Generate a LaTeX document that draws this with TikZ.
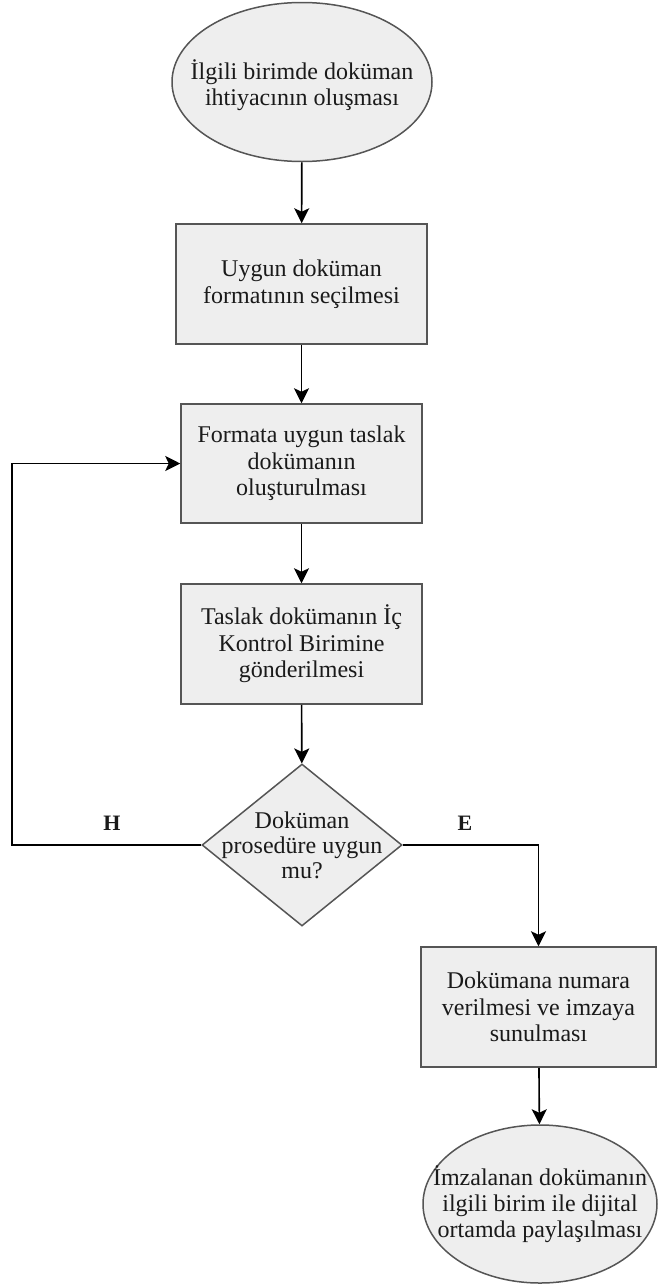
\documentclass[tikz,border=0pt]{standalone}
\usepackage{fontspec}
\setmainfont{Liberation Serif}
\usetikzlibrary{shapes.geometric,arrows.meta}
\definecolor{boxfill}{HTML}{EEEEEE}
\definecolor{boxline}{HTML}{555555}
\definecolor{txt}{HTML}{1A1A1A}
\begin{document}
\begin{tikzpicture}[x=1pt,y=-1pt,
  shapefill/.style={fill=boxfill, draw=boxline, line width=1.5pt},
  stepbox/.style={shapefill, rectangle, inner sep=0pt, align=center,
    font=\fontsize{24}{26.5}\selectfont, text=txt},
  oval/.style={shapefill, ellipse, inner sep=0pt},
  decision/.style={shapefill, diamond, inner sep=0pt},
  plaintext/.style={inner sep=0pt, align=center, font=\fontsize{24}{26}\selectfont, text=txt},
  lbl/.style={inner sep=0pt, font=\fontsize{22}{24}\selectfont\bfseries, text=txt},
  conn/.style={draw=black, line width=1.6pt, -{Stealth[length=15pt,width=15pt,inset=3.5pt]}}
]
\useasboundingbox (0,0) rectangle (657,1285);

% start oval
\node[oval, minimum width=260pt, minimum height=159pt] (e1) at (302,82) {};
\node[plaintext] (t1) at (302,85) {İlgili birimde doküman\\ihtiyacının oluşması};

% boxes
\node[stepbox, minimum width=251pt, minimum height=120pt] (b1) at (301.5,284)
  {Uygun doküman\\formatının seçilmesi};
\node[stepbox, minimum width=241pt, minimum height=119pt] (b2) at (301.5,463.5)
  {Formata uygun taslak\\dokümanın\\oluşturulması};
\node[stepbox, minimum width=241pt, minimum height=120pt] (b3) at (301.5,644)
  {Taslak dokümanın İç\\Kontrol Birimine\\gönderilmesi};

% decision
\node[decision, minimum width=200pt, minimum height=162pt] (d) at (302,845) {};
\node[plaintext, font=\fontsize{24}{25}\selectfont] (dt) at (302,845) {Doküman\\prosedüre uygun\\mu?};

% yes branch
\node[stepbox, minimum width=235pt, minimum height=120pt] (b4) at (538.5,1007)
  {Dokümana numara\\verilmesi ve imzaya\\sunulması};
\node[oval, minimum width=234pt, minimum height=158pt] (e2) at (540,1204) {};
\node[plaintext, font=\fontsize{24}{26}\selectfont] (t2) at (540,1204)
  {İmzalanan dokümanın\\ilgili birim ile dijital\\ortamda paylaşılması};

% labels
\node[lbl] (h) at (112,823) {H};
\node[lbl] (e) at (465,823) {E};

% connectors
\coordinate (lc) at (12,845);
\draw[conn] (e1) -- (b1);
\draw[conn] (b1) -- (b2);
\draw[conn] (b2) -- (b3);
\draw[conn] (b3) -- (d);
\draw[conn] (d.west) -- (lc) |- (b2.west);
\draw[conn] (d.east) -| (b4.north);
\draw[conn] (b4) -- (e2);
\end{tikzpicture}
\end{document}
